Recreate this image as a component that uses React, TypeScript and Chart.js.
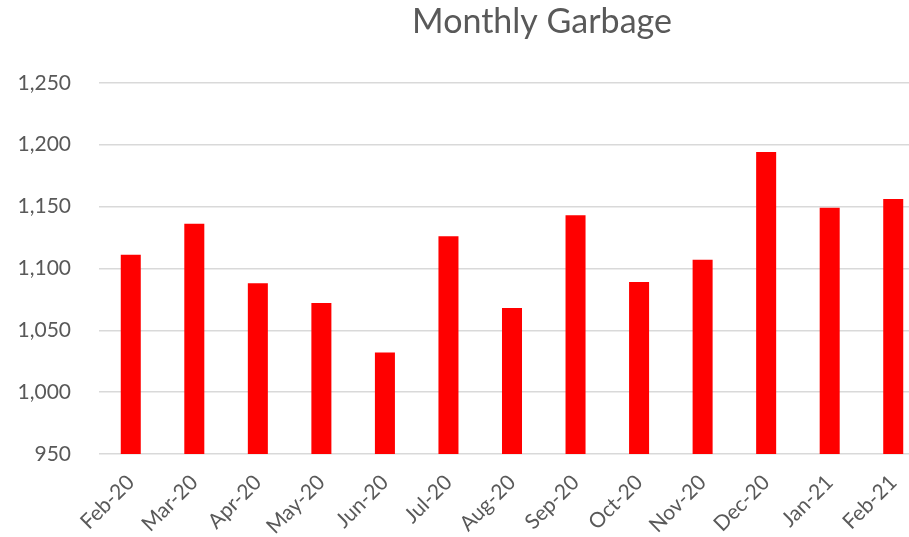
import React, { useEffect, useRef } from "react";
import { Chart, registerables } from "chart.js";

Chart.register(...registerables);

const months = [
  "Feb-20", "Mar-20", "Apr-20", "May-20", "Jun-20", "Jul-20", "Aug-20",
  "Sep-20", "Oct-20", "Nov-20", "Dec-20", "Jan-21", "Feb-21",
];
const garbage = [1111, 1136, 1088, 1072, 1032, 1126, 1068, 1143, 1089, 1107, 1194, 1149, 1156];
const yMin = 950;
const yMax = 1250;
const yStep = 50;
const title = "Monthly Garbage";

const FONT = "Lato, Carlito, Calibri, sans-serif";
const TEXT = "#595959";

export default function App() {
  const ref = useRef<HTMLCanvasElement | null>(null);

  useEffect(() => {
    if (!ref.current) return;
    const chart = new Chart(ref.current, {
      type: "bar",
      data: {
        labels: months,
        datasets: [
          {
            label: title,
            data: garbage,
            backgroundColor: "#FF0000",
            borderWidth: 0,
            barPercentage: 0.315,
            categoryPercentage: 1,
          },
        ],
      },
      options: {
        animation: false,
        responsive: false,
        maintainAspectRatio: false,
        layout: { padding: 0 },
        plugins: {
          legend: { display: false },
          tooltip: { enabled: false },
          title: {
            display: true,
            text: title,
            color: TEXT,
            font: { family: FONT, size: 34, weight: "normal" },
            padding: { top: 2, bottom: 40 },
          },
        },
        scales: {
          x: {
            grid: { display: false, drawTicks: false },
            border: { display: false },
            ticks: {
              color: TEXT,
              font: { family: FONT, size: 21 },
              minRotation: 45,
              maxRotation: 45,
              padding: 16,
              autoSkip: false,
            },
            afterFit: (s: any) => {
              s.height = 537 - 454;
            },
          },
          y: {
            min: yMin,
            max: yMax,
            grid: { color: "#D9D9D9", lineWidth: 1.5, drawTicks: false },
            border: { display: false },
            ticks: {
              stepSize: yStep,
              color: TEXT,
              font: { family: FONT, size: 21 },
              padding: 28,
              callback: (v: any) => Number(v).toLocaleString("en-US"),
            },
            afterFit: (s: any) => {
              s.width = 99;
            },
          },
          spacer: {
            type: "linear",
            position: "right",
            display: true,
            grid: { display: false, drawTicks: false },
            border: { display: false },
            ticks: { display: false },
            afterFit: (s: any) => {
              s.width = 159;
            },
          },
        },
      },
    });
    return () => chart.destroy();
  }, []);

  return (
    <div
      style={{
        position: "fixed",
        left: 0,
        top: 0,
        width: 909,
        height: 537,
        overflow: "hidden",
        background: "#fff",
      }}
    >
      <canvas ref={ref} width={1084} height={537} style={{ display: "block" }} />
    </div>
  );
}
